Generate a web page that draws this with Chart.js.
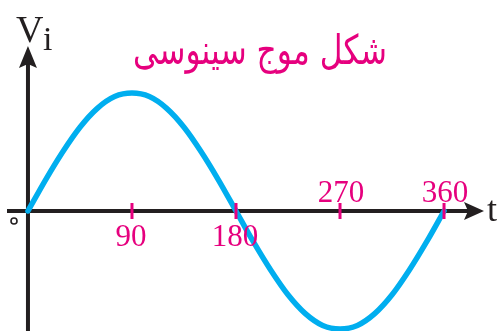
<!DOCTYPE html>
<html>
<head>
<meta charset="utf-8">
<script src="https://cdn.jsdelivr.net/npm/chart.js@4"></script>
<style>
  html, body { margin: 0; padding: 0; background: #fff; }
  #wave { display: block; }
</style>
</head>
<body>
<canvas id="wave" width="498" height="331"></canvas>
<script>
const angles = [0, 15, 30, 45, 60, 75, 90, 105, 120, 135, 150, 165, 180,
  195, 210, 225, 240, 255, 270, 285, 300, 315, 330, 345, 360];
const voltage = [0, 0.26, 0.5, 0.71, 0.87, 0.97, 1, 0.97, 0.87, 0.71, 0.5, 0.26, 0,
  -0.26, -0.5, -0.71, -0.87, -0.97, -1, -0.97, -0.87, -0.71, -0.5, -0.26, 0];
const tickValues = [90, 180, 270, 360];
const tickLabels = ["90", "180", "270", "360"];
const titleText = "شکل موج سینوسی";

const MAGENTA = "#e6007e";
const AXIS = "#231f20";
const CYAN = "#00aeef";

// axes + arrows, drawn under the curve
const axesPlugin = {
  id: "axes",
  beforeDatasetsDraw(chart) {
    const ctx = chart.ctx;
    const x0 = chart.scales.x.getPixelForValue(0);
    const y0 = chart.scales.y.getPixelForValue(0);
    ctx.save();
    ctx.strokeStyle = AXIS;
    ctx.fillStyle = AXIS;
    ctx.lineWidth = 4;
    // x axis
    ctx.beginPath();
    ctx.moveTo(7, y0);
    ctx.lineTo(468, y0);
    ctx.stroke();
    ctx.beginPath();
    ctx.moveTo(484, y0);
    ctx.lineTo(464, y0 - 9);
    ctx.lineTo(468, y0);
    ctx.lineTo(464, y0 + 9);
    ctx.closePath();
    ctx.fill();
    // y axis
    ctx.beginPath();
    ctx.moveTo(x0, 331);
    ctx.lineTo(x0, 64);
    ctx.stroke();
    ctx.beginPath();
    ctx.moveTo(x0, 46);
    ctx.lineTo(x0 - 9, 68);
    ctx.lineTo(x0, 64);
    ctx.lineTo(x0 + 9, 68);
    ctx.closePath();
    ctx.fill();
    // origin mark
    ctx.lineWidth = 1.6;
    ctx.beginPath();
    ctx.arc(14, y0 + 10, 3, 0, Math.PI * 2);
    ctx.stroke();
    ctx.restore();
  },
  afterDatasetsDraw(chart) {
    const ctx = chart.ctx;
    const xs = chart.scales.x;
    const y0 = chart.scales.y.getPixelForValue(0);
    ctx.save();
    // ticks and labels
    ctx.fillStyle = MAGENTA;
    ctx.strokeStyle = MAGENTA;
    ctx.lineWidth = 3;
    ctx.font = "31px 'Liberation Serif', serif";
    ctx.textAlign = "center";
    ctx.textBaseline = "alphabetic";
    tickValues.forEach((v, i) => {
      const px = xs.getPixelForValue(v);
      ctx.beginPath();
      ctx.moveTo(px, y0 - 8);
      ctx.lineTo(px, y0 + 8);
      ctx.stroke();
      if (i < 2) {
        ctx.fillText(tickLabels[i], px - 1, y0 + 35);
      } else {
        ctx.fillText(tickLabels[i], px + 1, y0 - 9);
      }
    });
    // title (font is a bit flatter than the original, stretch it up)
    ctx.font = "30px 'DejaVu Sans', sans-serif";
    ctx.textAlign = "center";
    const w = ctx.measureText(titleText).width;
    const size = 30 * 254 / w;
    ctx.font = size.toFixed(1) + "px 'DejaVu Sans', sans-serif";
    ctx.save();
    ctx.translate(260, 64);
    ctx.scale(1, 1.3);
    ctx.fillText(titleText, 0, 0);
    ctx.restore();
    // axis names
    ctx.fillStyle = AXIS;
    ctx.textAlign = "left";
    ctx.font = "38px 'Liberation Serif', serif";
    ctx.fillText("V", 16, 42);
    ctx.font = "34px 'Liberation Serif', serif";
    ctx.fillText("i", 43, 50);
    ctx.font = "36px 'Liberation Serif', serif";
    ctx.fillText("t", 487, y0 + 10);
    ctx.restore();
  }
};

new Chart(document.getElementById("wave"), {
  type: "line",
  data: {
    datasets: [{
      data: angles.map((a, i) => ({ x: a, y: voltage[i] })),
      borderColor: CYAN,
      borderWidth: 5.5,
      pointRadius: 0,
      fill: false,
      cubicInterpolationMode: "monotone",
      borderCapStyle: "round"
    }]
  },
  options: {
    responsive: false,
    animation: false,
    layout: { padding: 0 },
    scales: {
      x: { type: "linear", min: -24.2, max: 406.7, display: false },
      y: { min: -1.017, max: 1.788, display: false }
    },
    plugins: {
      legend: { display: false },
      tooltip: { enabled: false }
    }
  },
  plugins: [axesPlugin]
});
</script>
</body>
</html>
